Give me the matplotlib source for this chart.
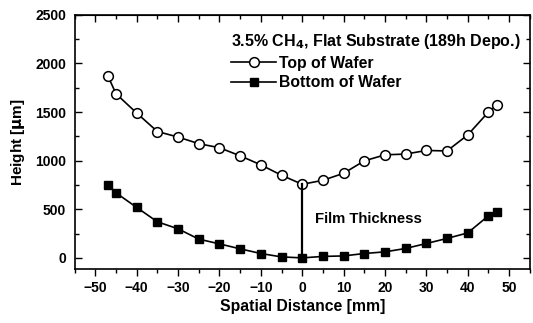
import numpy as np
import matplotlib.pyplot as plt
from matplotlib.ticker import MultipleLocator

plt.rcParams['font.family'] = ['Liberation Sans', 'DejaVu Sans']
plt.rcParams['font.weight'] = 'bold'
plt.rcParams['mathtext.default'] = 'bf'

# spatial positions across the wafer [mm]
position = [-47, -45, -40, -35, -30, -25, -20, -15, -10, -5, 0,
            5, 10, 15, 20, 25, 30, 35, 40, 45, 47]

# height of the top surface [um]
top_height = [1875, 1688, 1490, 1300, 1243, 1175, 1133, 1050, 957, 850, 757,
              798, 870, 998, 1060, 1068, 1105, 1100, 1265, 1500, 1572]

# height of the bottom surface [um]
bottom_height = [752, 669, 519, 371, 299, 193, 144, 93, 45, 10, 0,
                 15, 20, 45, 62, 97, 148, 200, 257, 433, 471]

fig = plt.figure(figsize=(5.33, 3.23), dpi=100)
ax = fig.add_axes([0.140, 0.167, 0.854, 0.787])

ax.plot(position, top_height, '-o', color='black', lw=1.2,
        markerfacecolor='white', markeredgecolor='black',
        markeredgewidth=1.1, markersize=7, label='Top of Wafer')
ax.plot(position, bottom_height, '-s', color='black', lw=1.2,
        markersize=6.2, label='Bottom of Wafer')

# thickness marker at the centre
i0 = position.index(0)
ax.plot([0, 0], [bottom_height[i0], top_height[i0]], color='black', lw=1.6)
ax.text(3, 400, 'Film Thickness', fontsize=10.7, fontweight='bold',
        va='center', ha='left')

ax.set_xlim(-55, 55)
ax.set_ylim(-115, 2500)
ax.xaxis.set_major_locator(MultipleLocator(10))
ax.xaxis.set_minor_locator(MultipleLocator(5))
ax.yaxis.set_major_locator(MultipleLocator(500))
ax.yaxis.set_minor_locator(MultipleLocator(250))

ax.tick_params(axis='x', which='both', direction='out', top=False, labelsize=10)
ax.tick_params(axis='y', which='both', direction='in', right=True, labelsize=10, pad=6)
ax.tick_params(which='major', length=5, width=1)
ax.tick_params(which='minor', length=3, width=1)

# inward ticks along the top edge
top = ax.secondary_xaxis('top')
top.xaxis.set_major_locator(MultipleLocator(10))
top.xaxis.set_minor_locator(MultipleLocator(5))
top.tick_params(which='both', direction='in', labeltop=False)
top.tick_params(which='major', length=5, width=1)
top.tick_params(which='minor', length=3, width=1)

for lab in ax.get_xticklabels() + ax.get_yticklabels():
    lab.set_fontweight('bold')

ax.set_xlabel('Spatial Distance [mm]', fontsize=11.3, fontweight='bold', labelpad=3)
ax.set_ylabel(r'Height [$\mathbf{\mu}$m]', fontsize=11, fontweight='bold', labelpad=6)

leg = ax.legend(loc='upper right', bbox_to_anchor=(1.0, 0.97),
                title=r'3.5% CH$_4$, Flat Substrate (189h Depo.)',
                frameon=False, fontsize=11.3, title_fontsize=11.5,
                handlelength=2.9, handletextpad=0.2, borderpad=0.1,
                labelspacing=0.3, alignment='left')
leg.get_title().set_fontweight('bold')
for t in leg.get_texts():
    t.set_fontweight('bold')

for s in ax.spines.values():
    s.set_linewidth(1.2)

fig.savefig('out.png', dpi=100)
